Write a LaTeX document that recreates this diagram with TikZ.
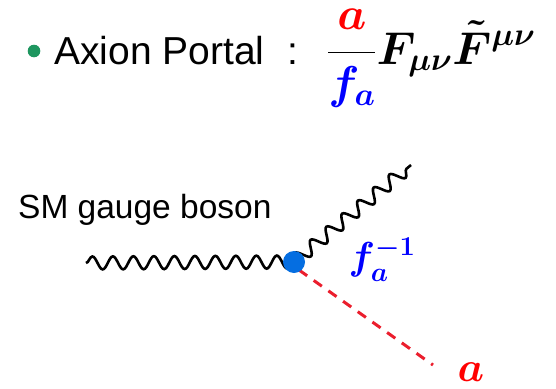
\RequirePackage{fix-cm}
\documentclass[tikz,border=0pt]{standalone}
\usepackage{amsmath}
\usepackage{fontspec}
\setmainfont{Liberation Sans}
\usetikzlibrary{decorations.pathmorphing}
\definecolor{bulletgreen}{RGB}{30,150,95}
\definecolor{dotblue}{RGB}{5,110,225}
\definecolor{mred}{RGB}{255,0,0}
\definecolor{mblue}{RGB}{0,0,255}
\definecolor{dashred}{RGB}{235,30,45}
\newsavebox\axlagbox
\newsavebox\axcoupbox
\newsavebox\axlabbox
\tikzset{
  txt/.style={inner sep=0pt, anchor=base west},
  boson/.style={line width=2.6pt, black, decorate,
    decoration={snake, segment length=20.5pt, amplitude=6.5pt}},
  scalar/.style={line width=3pt, dashred, dash pattern=on 10pt off 8pt},
  big/.style={font=\fontsize{#1}{#1}\selectfont},
}
\begin{document}
\sbox\axlagbox{\fontsize{46}{46}\selectfont\boldmath$\displaystyle\frac{\color{mred}a}{\color{mblue}f_a}F_{\mu\nu}\tilde{F}^{\mu\nu}$}%
\sbox\axcoupbox{\fontsize{39}{39}\selectfont\color{mblue}\boldmath$f_a^{-1}$}%
\sbox\axlabbox{\fontsize{42}{42}\selectfont\color{mred}\boldmath$a$}%
\begin{tikzpicture}[x=1pt,y=-1pt]
\useasboundingbox (0,0) rectangle (556,388);
\fill[bulletgreen] (34,51) circle (6.3);
\node[txt, big=39] (title) at (54,64) {Axion Portal\hspace{0.6em}:};
\node[txt] (lag) at (327,64) {\usebox\axlagbox};
\node[txt, big=33.5] (sm) at (18,218) {SM gauge boson};
\coordinate (vtx) at (294,262);
\coordinate (inL) at (86,263);
\coordinate (outW) at (411,165);
\coordinate (sA) at (299,270);
\coordinate (outA) at (433,365);
\draw[boson] (inL) -- (vtx);
\draw[boson] (vtx) -- (outW);
\draw[scalar] (sA) -- (outA);
\node[circle, fill=dotblue, inner sep=0pt, minimum size=22pt] (dot) at (vtx) {};
\node[inner sep=0pt] (coup) at (382,260) {\usebox\axcoupbox};
\node[inner sep=0pt] (alab) at (471,372) {\usebox\axlabbox};
\end{tikzpicture}
\end{document}
